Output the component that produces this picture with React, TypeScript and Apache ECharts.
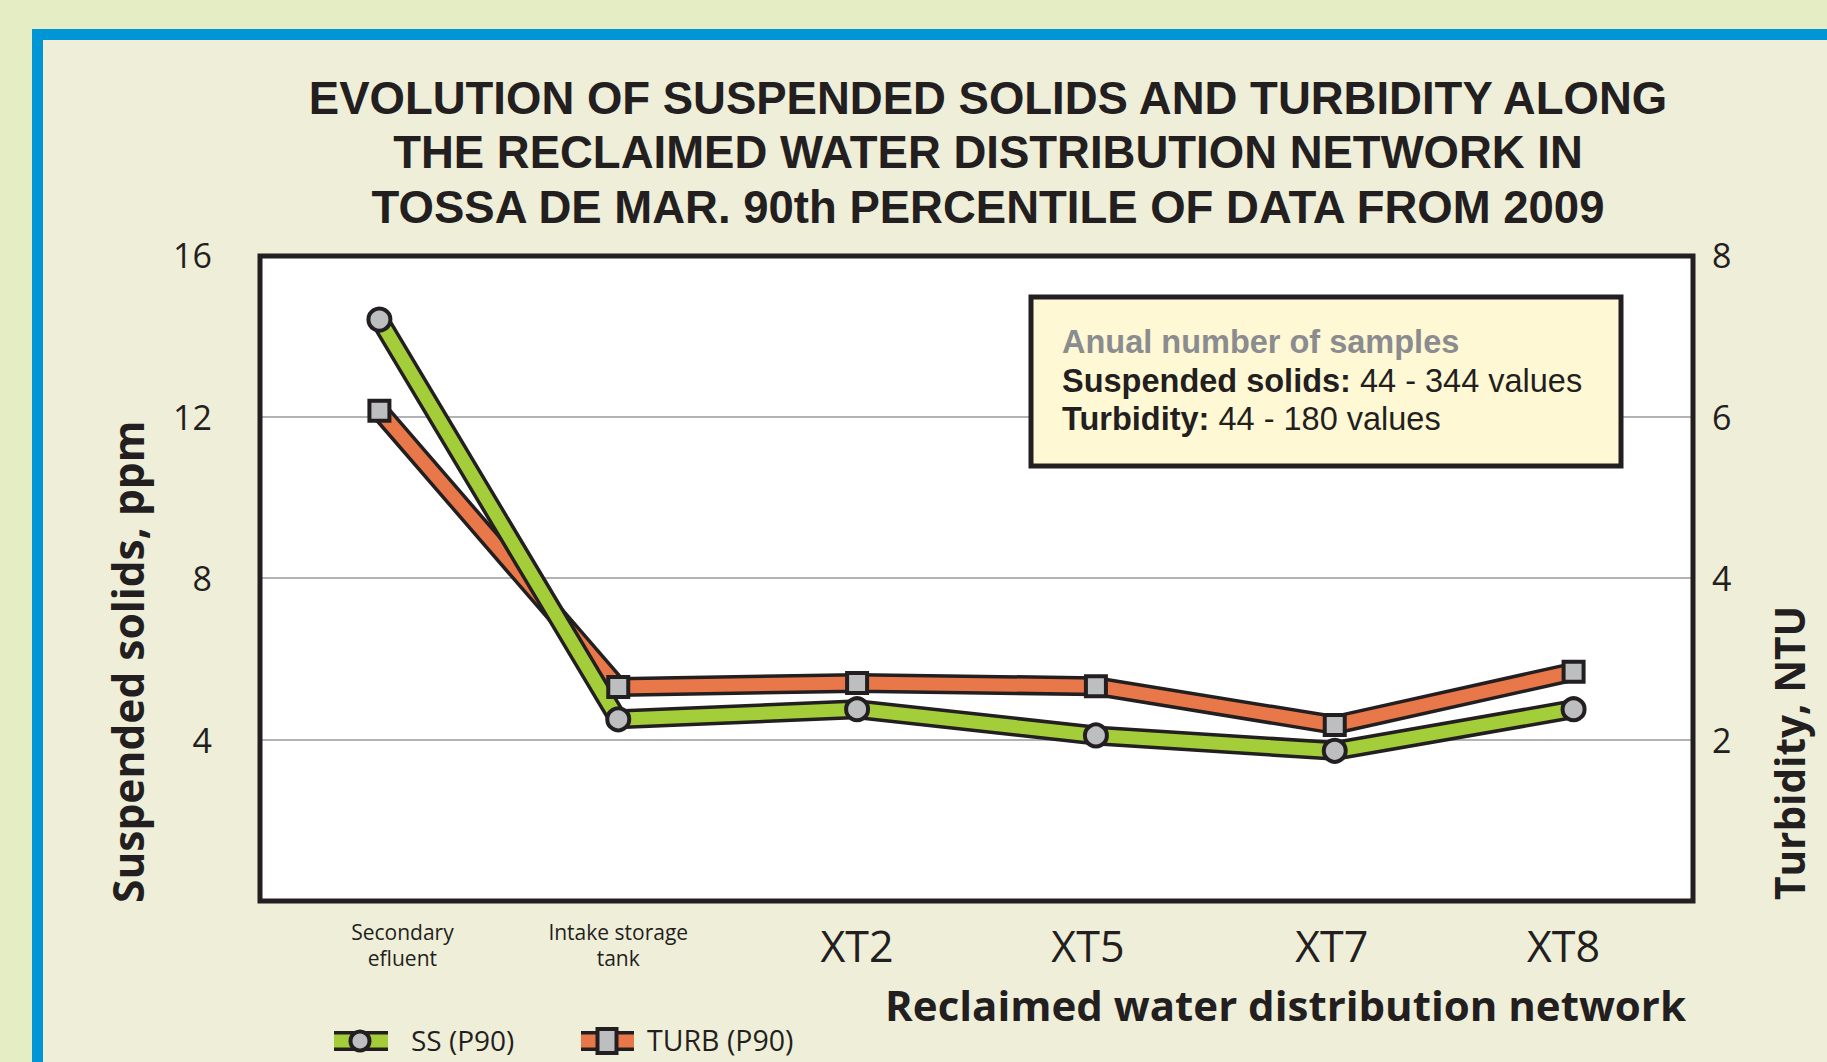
import React, { useEffect, useRef } from "react";
import * as echarts from "echarts";

const categories = ["Secondary\nefluent", "Intake storage\ntank", "XT2", "XT5", "XT7", "XT8"];
const ssValues = [14.4, 4.5, 4.75, 4.1, 3.72, 4.75];
const turbValues = [6.07, 2.65, 2.7, 2.66, 2.18, 2.84];
const leftTicks = { min: 0, max: 16, interval: 4 };
const rightTicks = { min: 0, max: 8, interval: 2 };
const titleLines = [
  "EVOLUTION OF SUSPENDED SOLIDS AND TURBIDITY ALONG",
  "THE RECLAIMED WATER DISTRIBUTION NETWORK IN",
  "TOSSA DE MAR. 90th PERCENTILE OF DATA FROM 2009",
];
const seriesNames = ["SS (P90)", "TURB (P90)"];

// layout-only horizontal nudges of the category labels (px)
const labelNudge = [23, 0, 0, -8, -3, -10];

const FONT = "'Open Sans', 'Noto Sans', sans-serif";
const TIGHT_FONT = "'Liberation Sans', Arial, sans-serif";
const INK = "#231f20";
const GREEN = "#a3cd39";
const ORANGE = "#e8784a";
const GREY = "#bcbec0";

export default function App() {
  const ref = useRef<HTMLDivElement>(null);
  useEffect(() => {
    if (!ref.current) return;
    const chart = echarts.init(ref.current, null, { renderer: "svg" });
    const W = 1827;
    const H = 1062;

    const rich: any = {};
    labelNudge.forEach((d, i) => {
      const pad = d >= 0 ? [0, 0, 0, 2 * d] : [0, -2 * d, 0, 0];
      rich["s" + i] = { fontSize: 21, lineHeight: 26, color: INK, fontFamily: FONT, padding: pad };
      rich["b" + i] = { fontSize: 43, lineHeight: 46, color: INK, fontFamily: FONT, padding: pad };
    });

    const option: any = {
      animation: false,
      backgroundColor: "#efeed8",
      title: {
        text: titleLines.join("\n"),
        left: 983,
        top: 66,
        textAlign: "center",
        textStyle: {
          fontFamily: TIGHT_FONT,
          fontWeight: "bold",
          fontSize: 45.5,
          lineHeight: 54.5,
          color: INK,
        },
      },
      grid: {
        left: 260,
        right: W - 1693,
        top: 255,
        bottom: H - 901,
        show: true,
        backgroundColor: "#ffffff",
        borderWidth: 0,
        containLabel: false,
      },
      xAxis: {
        type: "category",
        data: categories,
        boundaryGap: true,
        axisLine: { show: false },
        axisTick: { show: false },
        axisLabel: {
          margin: 44,
          verticalAlign: "middle",
          color: INK,
          fontFamily: FONT,
          interval: 0,
          formatter: (v: string, idx: number) => {
            if (v.indexOf("\n") >= 0) {
              return v
                .split("\n")
                .map((p) => `{s${idx}|${p}}`)
                .join("\n");
            }
            return `{b${idx}|${v}}`;
          },
          rich,
        },
      },
      yAxis: [
        {
          type: "value",
          ...leftTicks,
          axisLine: { show: false },
          axisTick: { show: false },
          splitLine: { show: true, lineStyle: { color: "#b1b3b6", width: 2 } },
          axisLabel: {
            margin: 48,
            fontSize: 34,
            color: INK,
            fontFamily: FONT,
            showMinLabel: false,
          },
        },
        {
          type: "value",
          ...rightTicks,
          position: "right",
          axisLine: { show: false },
          axisTick: { show: false },
          splitLine: { show: false },
          axisLabel: {
            margin: 19,
            fontSize: 34,
            color: INK,
            fontFamily: FONT,
            showMinLabel: false,
          },
        },
      ],
      series: [
        {
          name: seriesNames[1] + " outline",
          type: "line",
          yAxisIndex: 1,
          data: turbValues,
          symbol: "none",
          silent: true,
          z: 1,
          lineStyle: { color: INK, width: 20, join: "round", cap: "round" },
        },
        {
          name: seriesNames[1],
          type: "line",
          yAxisIndex: 1,
          data: turbValues,
          symbol: "none",
          z: 2,
          lineStyle: { color: ORANGE, width: 13, join: "round", cap: "round" },
        },
        {
          name: seriesNames[0] + " outline",
          type: "line",
          yAxisIndex: 0,
          data: ssValues,
          symbol: "none",
          silent: true,
          z: 3,
          lineStyle: { color: INK, width: 20, join: "round", cap: "round" },
        },
        {
          name: seriesNames[0],
          type: "line",
          yAxisIndex: 0,
          data: ssValues,
          symbol: "none",
          z: 4,
          lineStyle: { color: GREEN, width: 13, join: "round", cap: "round" },
        },
        {
          name: seriesNames[1] + " markers",
          type: "scatter",
          yAxisIndex: 1,
          data: turbValues,
          symbol: "rect",
          symbolSize: 20,
          z: 5,
          itemStyle: { color: GREY, borderColor: INK, borderWidth: 4, opacity: 1 },
        },
        {
          name: seriesNames[0] + " markers",
          type: "scatter",
          yAxisIndex: 0,
          data: ssValues,
          symbol: "circle",
          symbolSize: 22,
          z: 6,
          itemStyle: { color: GREY, borderColor: INK, borderWidth: 4, opacity: 1 },
        },
      ],
      graphic: [
        // outer page background and blue frame
        { type: "rect", shape: { x: 0, y: 0, width: W, height: 29 }, style: { fill: "#e5edc4" }, z: -10 },
        { type: "rect", shape: { x: 0, y: 0, width: 32, height: H }, style: { fill: "#e5edc4" }, z: -10 },
        { type: "rect", shape: { x: 32, y: 29, width: W - 32, height: 11 }, style: { fill: "#0096d6" }, z: -9 },
        { type: "rect", shape: { x: 32, y: 29, width: 11, height: H - 29 }, style: { fill: "#0096d6" }, z: -9 },
        // plot border
        {
          type: "rect",
          shape: { x: 260, y: 256, width: 1433, height: 645 },
          style: { fill: "none", stroke: INK, lineWidth: 5 },
          z: 50,
          silent: true,
        },
        // annotation box
        {
          type: "rect",
          shape: { x: 1031, y: 297, width: 590, height: 169 },
          style: { fill: "#fff8d4", stroke: INK, lineWidth: 5 },
          z: 50,
        },
        {
          type: "text",
          x: 1062,
          y: 323,
          z: 51,
          style: {
            text:
              "{g|Anual number of samples}\n{b|Suspended solids:}{r| 44 - 344 values}\n{b|Turbidity:}{r| 44 - 180 values}",
            verticalAlign: "top",
            align: "left",
            rich: {
              g: { fontFamily: TIGHT_FONT, fontWeight: "bold", fontSize: 32.5, lineHeight: 38.5, fill: "#8a8c8f" },
              b: { fontFamily: TIGHT_FONT, fontWeight: "bold", fontSize: 32.5, lineHeight: 38.5, fill: INK },
              r: { fontFamily: TIGHT_FONT, fontSize: 32.5, lineHeight: 38.5, fill: INK },
            },
          },
        },
        // axis titles
        {
          type: "text",
          x: 127,
          y: 903,
          rotation: Math.PI / 2,
          z: 20,
          style: {
            text: "Suspended solids, ppm",
            fontFamily: FONT,
            fontWeight: "bold",
            fontSize: 42.5,
            fill: INK,
            align: "left",
            verticalAlign: "middle",
          },
        },
        {
          type: "text",
          x: 1789,
          y: 900,
          rotation: Math.PI / 2,
          z: 20,
          style: {
            text: "Turbidity, NTU",
            fontFamily: FONT,
            fontWeight: "bold",
            fontSize: 40.5,
            fill: INK,
            align: "left",
            verticalAlign: "middle",
          },
        },
        {
          type: "text",
          x: 1686,
          y: 1004,
          z: 20,
          style: {
            text: "Reclaimed water distribution network",
            fontFamily: FONT,
            fontWeight: "bold",
            fontSize: 42,
            fill: INK,
            align: "right",
            verticalAlign: "middle",
          },
        },
        // legend
        { type: "rect", shape: { x: 334, y: 1031, width: 54, height: 20 }, style: { fill: INK }, z: 20 },
        { type: "rect", shape: { x: 334, y: 1034.5, width: 54, height: 13 }, style: { fill: GREEN }, z: 21 },
        { type: "circle", shape: { cx: 360, cy: 1041, r: 9.5 }, style: { fill: GREY, stroke: INK, lineWidth: 4 }, z: 22 },
        {
          type: "text",
          x: 411,
          y: 1040,
          z: 20,
          style: { text: seriesNames[0], fontFamily: FONT, fontSize: 28, fill: INK, verticalAlign: "middle" },
        },
        { type: "rect", shape: { x: 581, y: 1031, width: 53, height: 20 }, style: { fill: INK }, z: 20 },
        { type: "rect", shape: { x: 581, y: 1034.5, width: 53, height: 13 }, style: { fill: ORANGE }, z: 21 },
        { type: "rect", shape: { x: 597.5, y: 1029, width: 19, height: 24 }, style: { fill: GREY, stroke: INK, lineWidth: 4 }, z: 22 },
        {
          type: "text",
          x: 647,
          y: 1040,
          z: 20,
          style: { text: seriesNames[1], fontFamily: FONT, fontSize: 28.5, fill: INK, verticalAlign: "middle" },
        },
      ],
    };
    chart.setOption(option);
    return () => chart.dispose();
  }, []);
  return (
    <div
      ref={ref}
      style={{ position: "fixed", left: 0, top: 0, width: 1827, height: 1062 }}
    />
  );
}
